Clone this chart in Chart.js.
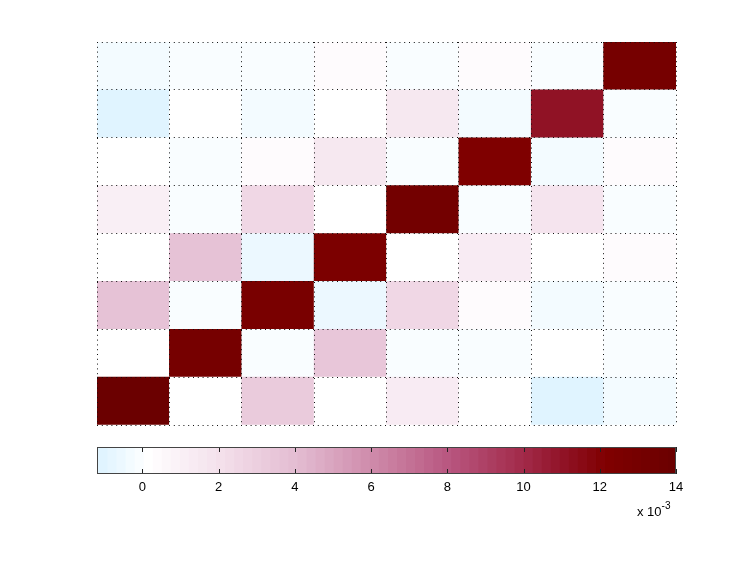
<!DOCTYPE html>
<html>
<head>
<meta charset="utf-8">
<title>Heatmap</title>
<script src="https://cdn.jsdelivr.net/npm/chart.js@4.4.1/dist/chart.umd.min.js"></script>
<style>
    body { margin: 0; background: #fff; }
    #wrap { position: relative; width: 747px; height: 561px; }
    #mapBox { position: absolute; left: 0; top: 0; width: 747px; height: 440px; }
    #barBox { position: absolute; left: 0; top: 440px; width: 747px; height: 121px; }
    #scaleNote { position: absolute; left: 637px; top: 502px; font: 13px "Liberation Sans", Arial, sans-serif; color: #000; }
    #scaleNote sup { font-size: 10px; position: relative; top: -2px; }
</style>
</head>
<body>
<div id="wrap">
    <div id="mapBox"><canvas id="mapChart"></canvas></div>
    <div id="barBox"><canvas id="barChart"></canvas></div>
    <div id="scaleNote">x 10<sup>-3</sup></div>
</div>
<script>
// Cell values in units of 10^-3, one array per row, listed from the bottom row up
const row0 = [14.0, 0.0, 3.3, 0.0, 1.2, 0.0, -1.19, -0.35];
const row1 = [0.0, 13.0, -0.2, 3.5, -0.2, -0.2, 0.0, -0.2];
const row2 = [3.6, -0.2, 12.8, -0.6, 2.5, 0.3, -0.35, -0.2];
const row3 = [0.0, 3.6, -0.6, 12.4, 0.0, 1.3, 0.0, 0.3];
const row4 = [1.0, -0.2, 2.6, 0.0, 13.2, -0.2, 1.8, -0.2];
const row5 = [0.0, -0.2, 0.3, 1.5, -0.2, 12.3, -0.35, 0.3];
const row6 = [-1.19, 0.0, -0.35, 0.0, 1.6, -0.35, 11.0, -0.2];
const row7 = [-0.35, -0.2, -0.2, 0.3, -0.2, 0.3, -0.2, 13.0];
const rows = [row0, row1, row2, row3, row4, row5, row6, row7];

// Colour bar range and tick labels (x 10^-3)
const colorMin = -1.19;
const colorMax = 14;
const colorTicks = [0, 2, 4, 6, 8, 10, 12, 14];

// Colour map stops: value -> rgb
const cmapStops = [
    [-1.19, [224, 244, 255]],
    [0, [255, 255, 255]],
    [2, [243, 222, 234]],
    [4, [226, 186, 208]],
    [6, [205, 135, 168]],
    [8, [183, 84, 125]],
    [10, [160, 38, 68]],
    [11, [142, 16, 34]],
    [12, [128, 0, 0]],
    [14, [104, 0, 0]]
];
const nLevels = 64;
const levelStep = (colorMax - colorMin) / nLevels;

function cmap(v) {
    if (v <= cmapStops[0][0]) return cmapStops[0][1];
    for (let i = 1; i < cmapStops.length; i++) {
        const [v1, c1] = cmapStops[i];
        if (v <= v1) {
            const [v0, c0] = cmapStops[i - 1];
            const f = (v - v0) / (v1 - v0);
            return c0.map((c, k) => Math.round(c + (c1[k] - c) * f));
        }
    }
    return cmapStops[cmapStops.length - 1][1];
}

function levelOf(v) {
    let k = Math.floor((v - colorMin) / levelStep + 1e-9);
    return Math.max(0, Math.min(nLevels - 1, k));
}

function levelColor(k) {
    const c = cmap(colorMin + k * levelStep);
    return `rgb(${c[0]}, ${c[1]}, ${c[2]})`;
}

// Heat map: one floating-bar dataset per row
const mapDatasets = rows.map((vals, r) => ({
    data: vals.map((v, c) => ({ x: c + 0.5, y: [r, r + 1] })),
    backgroundColor: vals.map(v => levelColor(levelOf(v))),
    borderWidth: 0,
    barPercentage: 1,
    categoryPercentage: 1
}));

const dottedGrid = {
    color: '#111',
    lineWidth: 1,
    drawTicks: false,
    offset: false,
    z: 1
};

new Chart(document.getElementById('mapChart'), {
    type: 'bar',
    data: { datasets: mapDatasets },
    options: {
        responsive: true,
        maintainAspectRatio: false,
        animation: false,
        layout: { padding: { left: 97, right: 71, top: 42, bottom: 15 } },
        plugins: { legend: { display: false }, tooltip: { enabled: false } },
        datasets: { bar: { grouped: false } },
        scales: {
            x: {
                type: 'linear', min: 0, max: 8, offset: false,
                ticks: { display: false, stepSize: 1 },
                grid: dottedGrid,
                border: { display: false, dash: [1, 3.8] }
            },
            y: {
                type: 'linear', min: 0, max: 8,
                ticks: { display: false, stepSize: 1 },
                grid: dottedGrid,
                border: { display: false, dash: [1, 3.8] }
            }
        }
    }
});

// Colour bar: one floating bar per colour level (each overlaps the next a little to hide seams)
const barDatasets = [];
for (let k = 0; k < nLevels; k++) {
    barDatasets.push({
        data: [[colorMin + k * levelStep, colorMin + (k + 1) * levelStep + 0.03]],
        backgroundColor: levelColor(k),
        borderWidth: 0,
        barPercentage: 1,
        categoryPercentage: 1
    });
}

const colorbarFrame = {
    id: 'colorbarFrame',
    afterDatasetsDraw(chart) {
        const { ctx, chartArea: a, scales: { x } } = chart;
        ctx.save();
        ctx.strokeStyle = '#222';
        ctx.lineWidth = 1;
        colorTicks.forEach(t => {
            const px = Math.round(x.getPixelForValue(t)) + 0.5;
            ctx.beginPath();
            ctx.moveTo(px, a.top);
            ctx.lineTo(px, a.top + 5);
            ctx.moveTo(px, a.bottom);
            ctx.lineTo(px, a.bottom - 5);
            ctx.stroke();
        });
        ctx.strokeStyle = '#444';
        ctx.strokeRect(Math.round(a.left) + 0.5, Math.round(a.top) + 0.5,
            Math.round(a.width) - 1, Math.round(a.height) - 1);
        ctx.restore();
    }
};

new Chart(document.getElementById('barChart'), {
    type: 'bar',
    data: { labels: [''], datasets: barDatasets },
    options: {
        indexAxis: 'y',
        responsive: true,
        maintainAspectRatio: false,
        animation: false,
        layout: { padding: { left: 97, right: 71, top: 7, bottom: 0 } },
        plugins: { legend: { display: false }, tooltip: { enabled: false } },
        datasets: { bar: { grouped: false } },
        scales: {
            x: {
                type: 'linear', min: colorMin, max: colorMax,
                afterBuildTicks: scale => { scale.ticks = colorTicks.map(v => ({ value: v })); },
                afterFit: scale => { scale.height = 87; },
                ticks: {
                    padding: 6,
                    color: '#000',
                    font: { family: '"Liberation Sans", Arial, sans-serif', size: 13 },
                    maxRotation: 0,
                    callback: v => String(v)
                },
                grid: { display: false, drawTicks: false },
                border: { display: false }
            },
            y: { display: false }
        }
    },
    plugins: [colorbarFrame]
});
</script>
</body>
</html>
